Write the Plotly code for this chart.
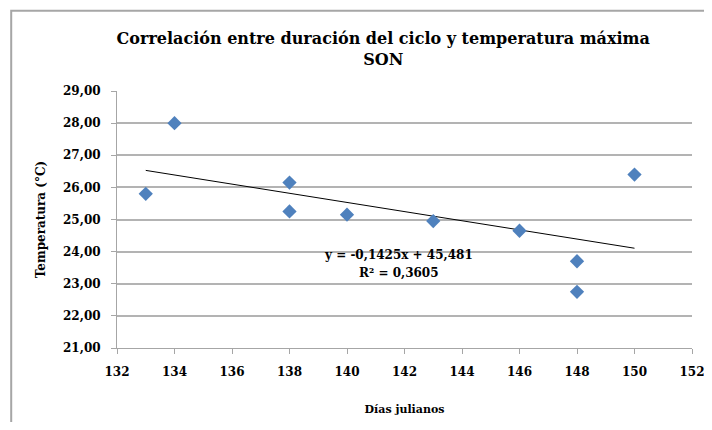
import plotly.graph_objects as go

dias = [133, 134, 138, 138, 140, 143, 146, 148, 148, 150]
temperatura = [25.80, 28.00, 26.15, 25.25, 25.15, 24.95, 24.65, 23.70, 22.75, 26.40]
pendiente = -0.1425
intercepto = 45.481
r2 = 0.3605
x_ticks = list(range(132, 153, 2))
y_ticks = list(range(21, 30))

trend_x = [min(dias), max(dias)]
trend_y = [pendiente * v + intercepto for v in trend_x]

font_fam = "DejaVu Serif"

fig = go.Figure()
fig.add_trace(go.Scatter(
    x=trend_x, y=trend_y, mode="lines",
    line=dict(color="black", width=1), showlegend=False, hoverinfo="skip"))
fig.add_trace(go.Scatter(
    x=dias, y=temperatura, mode="markers",
    marker=dict(symbol="diamond", size=11, color="#4F81BD"),
    showlegend=False))

fig.update_layout(
    width=704, height=414,
    margin=dict(l=109, r=20, t=83, b=74, autoexpand=False),
    paper_bgcolor="white", plot_bgcolor="white",
    separators=",.",
    font=dict(family=font_fam, color="black"),
    title=dict(
        text="<b>Correlación entre duración del ciclo y temperatura máxima<br>SON</b>",
        x=0.533, xanchor="center", y=0.913, yanchor="middle",
        font=dict(family=font_fam, size=16, color="black")),
    xaxis=dict(
        range=[132, 152], tickvals=x_ticks,
        ticktext=["<b>%d</b>" % v for v in x_ticks],
        showgrid=False, zeroline=False, automargin=False, ticklabeloverflow="allow",
        showline=True, linecolor="#A6A6A6", linewidth=1,
        ticks="outside", ticklen=5, tickcolor="#A6A6A6", ticklabelstandoff=8,
        tickfont=dict(family=font_fam, size=12, color="black"),
        title=dict(text="<b>Días julianos</b>", font=dict(family=font_fam, size=11), standoff=26)),
    yaxis=dict(
        range=[21, 29], tickvals=y_ticks,
        ticktext=["<b>%s</b>" % ("%.2f" % v).replace(".", ",") for v in y_ticks],
        showgrid=True, gridcolor="#B3B3B3", gridwidth=1.5, zeroline=False, automargin=False,
        showline=True, linecolor="#A6A6A6", linewidth=1,
        ticks="outside", ticklen=5, tickcolor="#A6A6A6", ticklabelstandoff=8,
        tickfont=dict(family=font_fam, size=12, color="black"),
        title=dict(text="<b>Temperatura (°C)</b>", font=dict(family=font_fam, size=12), standoff=14)),
    annotations=[
        dict(x=141.8, y=23.9, xref="x", yref="y",
             text="<b>y = -0,1425x + 45,481</b>", showarrow=False,
             font=dict(family=font_fam, size=12, color="black"), xanchor="center", yanchor="middle"),
        dict(x=141.8, y=23.33, xref="x", yref="y",
             text="<b>R² = 0,3605</b>", showarrow=False,
             font=dict(family=font_fam, size=12, color="black"), xanchor="center", yanchor="middle"),
    ],
    shapes=[dict(type="rect", xref="paper", yref="paper",
                 x0=-0.184, x1=1.1, y0=-0.5, y1=1.312,
                 line=dict(color="#A6A6A6", width=2), layer="below")],
)

fig.write_html("out.html")
